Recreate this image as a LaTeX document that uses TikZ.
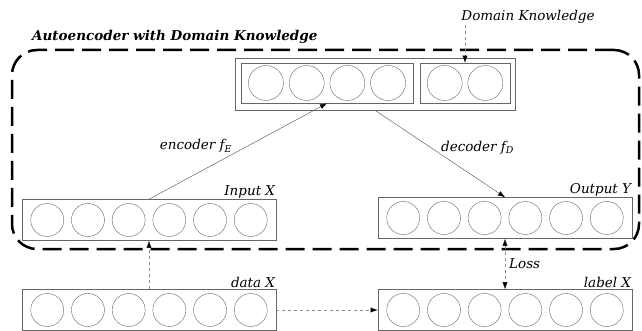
\documentclass[tikz,border=0pt]{standalone}
\usepackage{fontspec}
\setmainfont{DejaVu Serif}
\usetikzlibrary{arrows.meta, positioning}

\begin{document}
\begin{tikzpicture}[x=1pt, y=-1pt, font=\fontsize{13.5}{15}\selectfont,
    >={Latex[length=7pt,width=5pt,color=black]},
    unit/.style={circle, draw=black!60, thin, minimum size=33pt, inner sep=0pt},
    layer/.style={rectangle, draw=black!60, semithick, minimum width=254pt, minimum height=41pt, inner sep=0pt},
    tag/.style={font=\fontsize{13.5}{15}\selectfont\itshape, text=black, inner sep=1pt},
    flow/.style={->, black!70, thin},
    guide/.style={flow, dashed, black!45},
    frame/.style={draw, line width=2.5pt, dash pattern=on 19pt off 8pt, rounded corners=25pt, minimum width=627pt, minimum height=199pt}]
  \useasboundingbox (0,0) rectangle (642,331);

  % autoencoder frame and title
  \node[frame] (ae) at (325.5,149.5) {};
  \node[font=\fontsize{13.5}{15}\selectfont\bfseries\itshape, anchor=south west, inner sep=1pt] (title) at (31,45) {Autoencoder with Domain Knowledge};

  % input/output layers and the data/label rows below them
  \foreach \name/\cx/\cy/\txt in {inp/149/220/Input X, dat/149/310/data X, out/505/218/Output Y, lab/505/310/label X}{
    \node[layer] (\name) at (\cx,\cy) {};
    \node[tag, anchor=south east] (\name-t) at (\name.north east) {\txt};
    \foreach \k in {1,...,6}
      \node[unit] (\name\k) at (\cx+40.7*\k-142.45,\cy) {};
  }

  % latent code: encoded units plus domain knowledge units
  \node[layer, minimum width=280pt, minimum height=52pt] (code) at (375,84) {};
  \node[layer, minimum width=172pt, minimum height=40pt] (enc) at (327,83) {};
  \node[layer, minimum width=90pt, minimum height=40pt] (dk) at (465,83) {};
  \foreach \k in {1,...,4}
    \node[unit, minimum size=35pt] (enc\k) at (327+40.7*\k-101.75,83) {};
  \foreach \k in {1,2}
    \node[unit, minimum size=35pt] (dk\k) at (465+40.7*\k-61.05,83) {};

  \node[tag] (dk-t) at (528,17) {Domain Knowledge};
  \draw[guide] (dk |- dk-t.south) -- (dk.north);

  % connectors
  \draw[flow] (inp.north) -- (enc.south) node[tag, pos=0.49, anchor=east, xshift=-3pt, yshift=6pt] (enc-t) {encoder \textit{f}\textsubscript{\textit{E}}};
  \draw[flow] (code.south) -- (out.north) node[tag, pos=0.5, anchor=west, yshift=6pt] (dec-t) {decoder \textit{f}\textsubscript{\textit{D}}};
  \draw[guide, <->] (out.south) -- (lab.north) node[tag, midway, right=3pt] (loss) {Loss};
  \draw[guide] (dat.north) -- (inp.south);
  \draw[guide] (dat.east) -- (lab.west);
\end{tikzpicture}
\end{document}
